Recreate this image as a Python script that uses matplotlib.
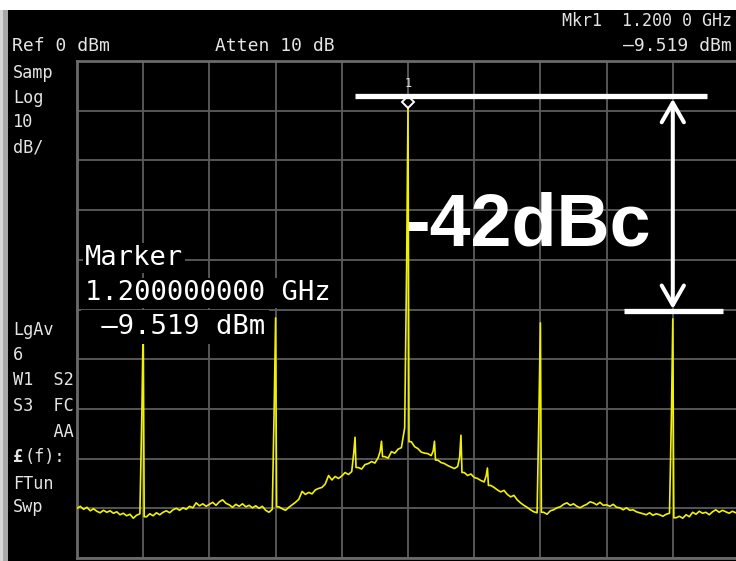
import numpy as np
import matplotlib
matplotlib.use("Agg")
import matplotlib.pyplot as plt
from matplotlib.patches import Rectangle, FancyArrowPatch, ArrowStyle
from matplotlib.transforms import offset_copy

W, H = 736, 561

# analyzer trace, 0.5 MHz bins from 1150 to 1250 MHz (dBm)
freq_mhz = np.linspace(1150, 1250, 201)
floor_dbm = [
    -90.0, -89.6, -90.2, -89.8, -90.5, -90.1, -90.6, -90.9, -90.4, -90.8,
    -90.5, -91.0, -90.7, -91.3, -91.0, -91.5, -91.2, -92.0, -91.4, -91.1,
    -91.3, -91.7, -91.1, -91.5, -90.9, -91.3, -90.8, -90.5, -90.9, -90.3,
    -90.0, -90.4, -89.9, -90.2, -89.6, -89.9, -88.9, -89.5, -89.1, -89.6,
    -89.2, -88.8, -89.4, -88.7, -88.3, -89.0, -89.3, -89.8, -89.2, -89.6,
    -89.1, -89.7, -89.4, -89.9, -89.5, -90.0, -89.6, -90.4, -90.8, -90.2,
    -90.0, -89.7, -90.1, -90.4, -89.8, -89.3, -88.8, -88.2, -86.6, -87.2,
    -86.8, -87.1, -86.3, -86.0, -85.8, -85.1, -83.4, -84.3, -83.6, -84.0,
    -83.5, -82.8, -83.2, -82.6, -82.4, -81.8, -82.1, -81.2, -81.0, -80.6,
    -80.9, -79.8, -80.0, -79.6, -79.9, -78.6, -78.9, -78.1, -77.8, -73.8,
    -74.5, -76.6, -77.6, -78.0, -78.7, -78.9, -79.0, -79.4, -79.6, -80.3,
    -80.8, -81.0, -81.4, -81.7, -82.0, -81.6, -82.2, -82.8, -83.4, -83.1,
    -83.8, -84.0, -84.4, -84.7, -84.9, -85.4, -85.8, -86.3, -86.7, -86.4,
    -87.2, -87.7, -87.4, -88.3, -88.9, -89.4, -89.8, -90.3, -90.7, -90.9,
    -91.0, -90.8, -91.2, -90.5, -90.3, -89.9, -89.7, -89.2, -88.9, -89.4,
    -89.1, -89.6, -89.9, -89.5, -89.2, -88.7, -88.9, -89.3, -88.8, -89.4,
    -89.3, -89.6, -89.2, -89.8, -89.9, -90.3, -89.9, -90.4, -90.3, -90.7,
    -90.9, -91.1, -91.3, -90.9, -91.4, -91.1, -91.3, -91.6, -91.2, -91.0,
    -91.3, -91.9, -91.6, -92.0, -91.3, -91.7, -90.8, -91.2, -90.6, -91.0,
    -90.8, -91.3, -90.7, -90.3, -90.8, -90.4, -90.7, -91.0, -90.6, -90.9,
    -90.7,
]

# discrete tones: peak bin and the bin just before it
spur_mhz = [1160, 1180, 1192, 1196, 1200, 1204, 1208, 1212, 1220, 1240]
spur_top_dbm = [-52.7, -51.7, -75.7, -76.5, -9.519, -76.5, -75.3, -81.9, -52.7, -51.9]
spur_side_dbm = [-70.6, -68.8, -78.9, -78.5, -40.2, -78.5, -79.7, -83.5, -69.0, -70.8]

marker_mhz = 1200.0
marker_dbm = -9.519
ref_line_dbm = -7.0
spur_line_dbm = -50.4
dbc_label = "-42dBc"

txt = "#e4e4e4"
grid_c = "#5c5c5c"
trace_c = "#f2f200"


def build_trace():
    pts = [(f, p) for f, p in zip(freq_mhz, floor_dbm)
           if min(abs(f - s) for s in spur_mhz) > 0.2]
    for s, top, side in zip(spur_mhz, spur_top_dbm, spur_side_dbm):
        nxt = floor_dbm[int(np.searchsorted(freq_mhz, s + 0.3))]
        pts += [(s - 0.2, side), (s, top), (s + 0.15, nxt)]
    pts.sort()
    f, p = zip(*pts)
    return np.array(f), np.array(p)


def label(x, y, s, size=13, **kw):
    kw.setdefault("family", "DejaVu Sans Mono")
    kw.setdefault("color", txt)
    return fig.text(x / W, 1 - y / H, s, fontsize=size, va="baseline", **kw)


fig = plt.figure(figsize=(W / 100, H / 100), dpi=100, facecolor="black")

# white strip on top, bezel on the left
fig.patches.append(Rectangle((0, 1 - 10 / H), 1, 10 / H, transform=fig.transFigure,
                             facecolor="white", edgecolor="none", zorder=0))
fig.patches.append(Rectangle((0, 0), 8 / W, 1 - 10 / H, transform=fig.transFigure,
                             facecolor="#a8a8a8", edgecolor="none", zorder=0))
fig.patches.append(Rectangle((0, 0), 3 / W, 1 - 10 / H, transform=fig.transFigure,
                             facecolor="#d6d6d6", edgecolor="none", zorder=0))

ax = fig.add_axes([77 / W, 3 / H, 662 / W, 497 / H], facecolor="black")
ax.set_xlim(1150, 1250)
ax.set_ylim(-100, 0)
ax.set_xticks(np.arange(1150, 1251, 10))
ax.set_yticks(np.arange(-100, 1, 10))
ax.tick_params(length=0, labelbottom=False, labelleft=False)
ax.grid(True, color=grid_c, lw=1.3)
for sp in ax.spines.values():
    sp.set_color("#6a6a6a")
    sp.set_linewidth(2)

f, p = build_trace()
ax.plot(f, p, color=trace_c, lw=1.2, zorder=3)

# marker 1 on the carrier
up = offset_copy(ax.transData, fig=fig, x=0, y=4.8, units="points")
ax.plot(marker_mhz, marker_dbm, marker="D", ms=6, mfc="black", mec="white",
        mew=1.4, transform=up, zorder=5, clip_on=False)
ax.annotate("1", (marker_mhz, marker_dbm), xytext=(0, 13), textcoords="offset points",
            ha="center", va="bottom", color=txt, fontsize=8.5, family="DejaVu Sans Mono")

# dBc measurement overlay
ax.plot([1192.0, 1245.2], [ref_line_dbm] * 2, color="white", lw=3.8,
        solid_capstyle="butt", zorder=6, clip_on=False)
ax.plot([1232.6, 1247.6], [spur_line_dbm] * 2, color="white", lw=3.8,
        solid_capstyle="butt", zorder=6, clip_on=False)
arr = FancyArrowPatch((1240, -7.6), (1240, -49.9),
                      arrowstyle=ArrowStyle("<->", head_length=14, head_width=8),
                      mutation_scale=1, lw=2.9, color="white", shrinkA=0, shrinkB=0,
                      capstyle="round", joinstyle="round", zorder=6)
ax.add_patch(arr)
label(405, 245, dbc_label, size=53, family="Liberation Sans", weight="bold",
      color="white", zorder=7)

# marker readout
box = dict(facecolor="black", edgecolor="none", pad=1.5)
label(85, 265, "Marker", size=19.5, color="white", bbox=box)
label(85, 300, "1.200000000 GHz", size=19.5, color="white", bbox=box)
label(85, 334, " \u20139.519 dBm", size=19.5, color="white",
      bbox=dict(facecolor="black", edgecolor="none", pad=3))

# header annotations
label(562, 26, "Mkr1  1.200 0 GHz", size=12)
label(732, 51, "\u20139.519 dBm", ha="right")
label(12, 51, "Ref 0 dBm")
label(215, 51, "Atten 10 dB")

# left status column
for y, s in [(78, "Samp"), (103, "Log"), (127, "10"), (152, "dB/"),
             (335, "LgAv"), (360, "6"), (385, "W1  S2"), (411, "S3  FC"),
             (437, "    AA"), (489, "FTun"), (512, "Swp")]:
    label(13, y, s, size=12.2)
label(13, 462, "\u00a3", size=12.2, weight="bold")
label(24, 462, "(f):", size=12.2)

fig.savefig("out.png", dpi=100, facecolor="black")
